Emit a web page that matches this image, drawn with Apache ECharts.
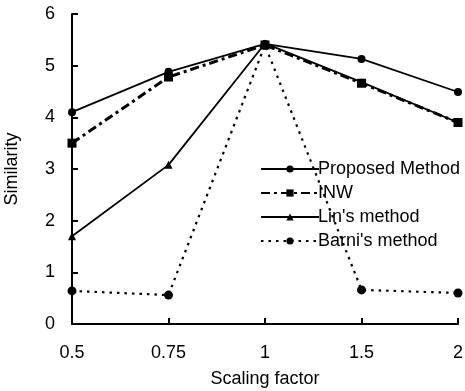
<!DOCTYPE html>
<html>
<head>
<meta charset="utf-8">
<script src="https://cdn.jsdelivr.net/npm/echarts@6/dist/echarts.min.js"></script>
<style>
html, body { margin: 0; padding: 0; background: #fff; }
#chart { width: 465px; height: 391px; }
</style>
</head>
<body>
<div id="chart"></div>
<script>
const scales = ['0.5', '0.75', '1', '1.5', '2']
const proposed = [4.1, 4.88, 5.42, 5.13, 4.49]
const inw = [3.5, 4.78, 5.4, 4.66, 3.9]
const lin = [1.7, 3.08, 5.43, 4.68, 3.9]
const barni = [0.64, 0.56, 5.4, 0.66, 0.6]

const font = 'Liberation Sans, Arial, sans-serif'
const chart = echarts.init(document.getElementById('chart'))

function line(name, data, symbol, size, type, width) {
	return {
		name: name,
		type: 'line',
		data: data,
		symbol: symbol,
		symbolSize: size,
		showSymbol: true,
		itemStyle: { color: '#000' },
		lineStyle: { color: '#000', width: width, type: type },
		z: 3
	}
}

chart.setOption({
	animation: false,
	backgroundColor: '#fff',
	grid: { left: 72, right: 7, top: 14, bottom: 67, outerBoundsMode: 'none', containLabel: false },
	legend: {
		orient: 'vertical',
		left: 255,
		top: 155,
		itemWidth: 58,
		itemHeight: 9,
		itemGap: 6,
		textStyle: { fontFamily: font, fontSize: 18, color: '#000', padding: [0, 0, 0, -6] },
		data: ["Proposed Method", 'INW', "Lin's method", "Barni's method"]
	},
	xAxis: {
		type: 'category',
		data: scales,
		boundaryGap: false,
		name: 'Scaling factor',
		nameLocation: 'middle',
		nameGap: 46,
		nameTextStyle: { fontFamily: font, fontSize: 18, color: '#000' },
		axisLine: { lineStyle: { color: '#000', width: 2 } },
		axisTick: { inside: true, length: 6, lineStyle: { color: '#000', width: 2 } },
		axisLabel: { fontFamily: font, fontSize: 18, color: '#000', margin: 20 },
		splitLine: { show: false }
	},
	yAxis: {
		type: 'value',
		min: 0,
		max: 6,
		interval: 1,
		name: 'Similarity',
		nameLocation: 'middle',
		nameGap: 51,
		nameTextStyle: { fontFamily: font, fontSize: 18, color: '#000' },
		axisLine: { show: true, lineStyle: { color: '#000', width: 2 } },
		axisTick: { show: true, inside: true, length: 6, lineStyle: { color: '#000', width: 2 } },
		axisLabel: { fontFamily: font, fontSize: 18, color: '#000', margin: 17 },
		splitLine: { show: false }
	},
	series: [
		line("Proposed Method", proposed, 'circle', 8, 'solid', 1.8),
		line('INW', inw, 'rect', 9, [9, 4, 3, 4], 3),
		line("Lin's method", lin, 'triangle', 8, 'solid', 1.8),
		line("Barni's method", barni, 'circle', 9, [2.5, 5], 2.2)
	]
})
</script>
</body>
</html>
